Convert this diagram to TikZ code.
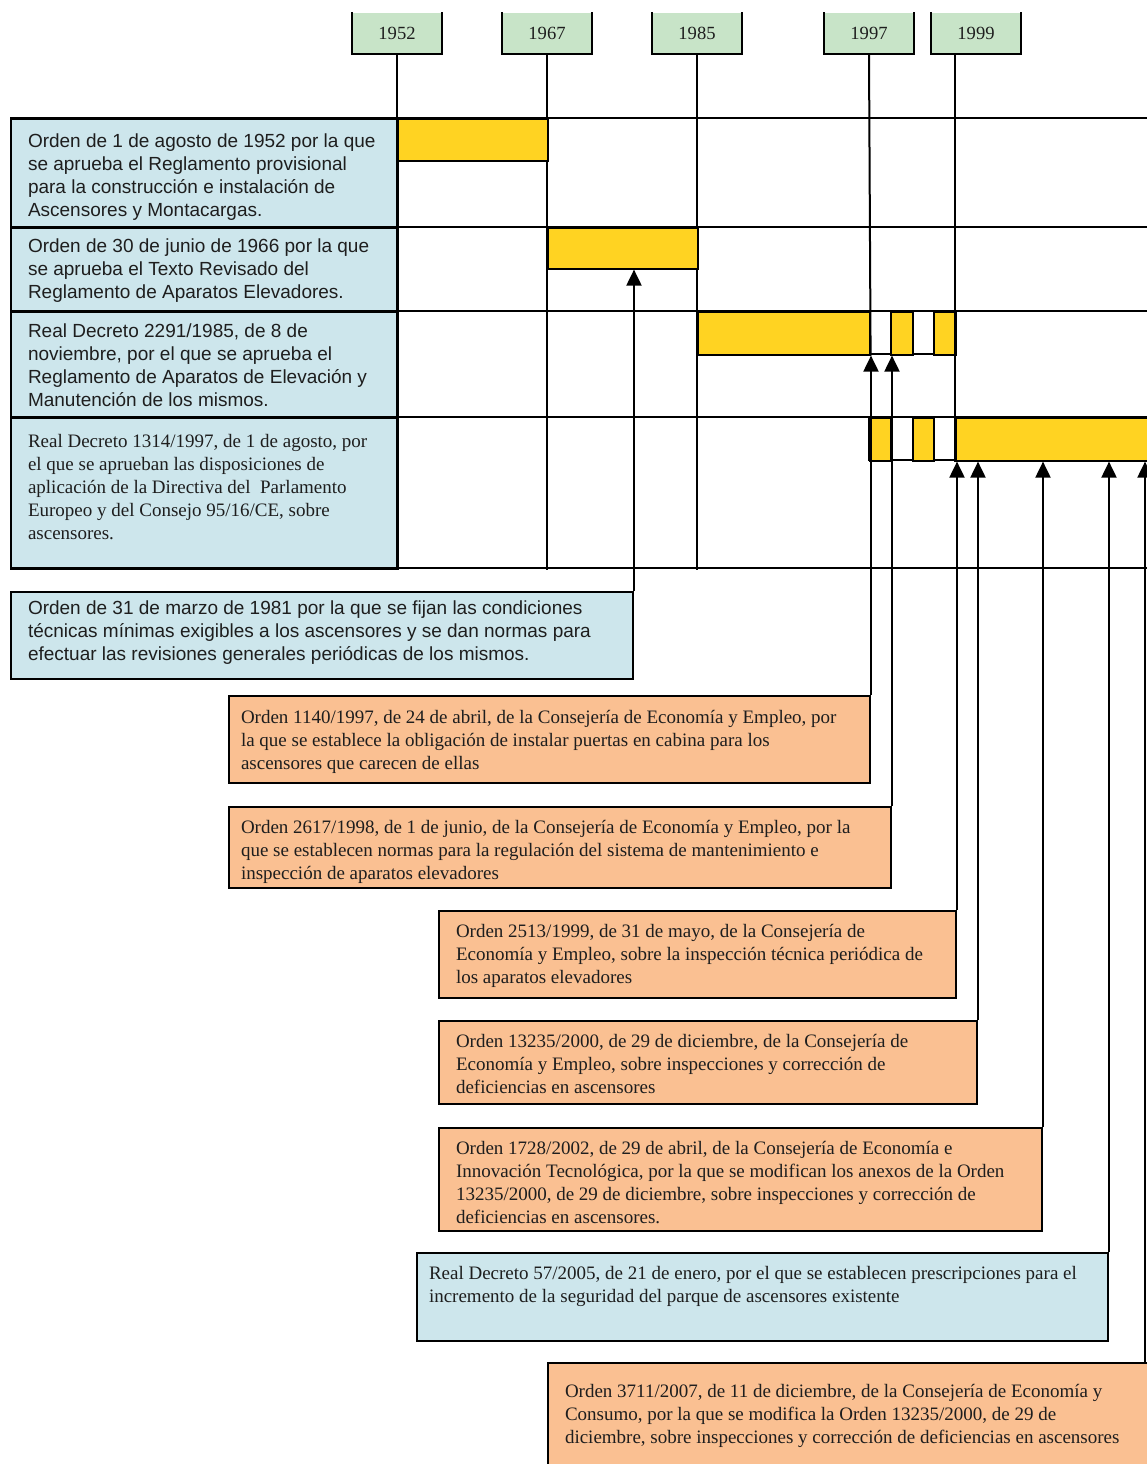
\documentclass[tikz,border=0pt]{standalone}
\usepackage{fontspec}
\setmainfont{Liberation Serif}
\newfontfamily\arialfont{Liberation Sans}
\usepackage{tikz}
\usetikzlibrary{arrows.meta, positioning, calc}
\usepackage{xcolor}

\definecolor{azul}{RGB}{205,230,236}
\definecolor{verde}{RGB}{200,228,200}
\definecolor{naranja}{RGB}{250,192,146}
\definecolor{amarillo}{RGB}{255,211,34}
\definecolor{tinta}{RGB}{30,30,30}

\tikzset{
  anio/.style={fill=verde, minimum width=44pt, minimum height=20pt, inner sep=0pt, text=tinta, font=\fontsize{9.3}{10}\selectfont},
  caja/.style={draw, line width=1pt, anchor=north west, inner sep=0pt},
  barra/.style={draw, fill=amarillo, line width=0.8pt, anchor=north west, inner sep=0pt},
  texto/.style={align=left, inner sep=0pt, text=tinta},
  sans/.style={texto, font=\arialfont\fontsize{9.5}{11.5}\selectfont},
  serif/.style={texto, font=\fontsize{9.5}{11.5}\selectfont},
  flecha/.style={-{Triangle[length=8pt, width=7.5pt]}, line width=1pt},
}

\begin{document}
\begin{tikzpicture}[x=0.5pt, y=-0.5pt, line width=1pt]

  \useasboundingbox (0,0) rectangle (1147,1464);
  \clip (0,0) rectangle (1147,1464);

  % casillas de los años
  \foreach \a/\x in {1952/397, 1967/547, 1985/697, 1997/869, 1999/976} {
    \node[anio] (y\a) at (\x,33) {\a};
    \draw (y\a.north west) -- (y\a.south west) -- (y\a.south east) -- (y\a.north east);
  }

  % filas de la tabla (reglamentos)
  \node[caja, fill=azul, minimum width=193.5pt, minimum height=54.5pt] (r1) at (10,118) {};
  \node[caja, fill=azul, minimum width=193.5pt, minimum height=42pt] (r2) at (10,227) {};
  \node[caja, fill=azul, minimum width=193.5pt, minimum height=53pt] (r3) at (10,311) {};
  \node[caja, fill=azul, minimum width=193.5pt, minimum height=75.5pt] (r4) at (10,417) {};

  \node[sans, below right=7.5pt and 8.5pt of r1.north west] (t1) {Orden de 1 de agosto de 1952 por la que\\se aprueba el Reglamento provisional\\para la construcción e instalación de\\Ascensores y Montacargas.};
  \node[sans, below right=5.5pt and 8.5pt of r2.north west] (t2) {Orden de 30 de junio de 1966 por la que\\se aprueba el Texto Revisado del\\Reglamento de Aparatos Elevadores.};
  \node[sans, below right=6pt and 8.5pt of r3.north west] (t3) {Real Decreto 2291/1985, de 8 de\\noviembre, por el que se aprueba el\\Reglamento de Aparatos de Elevación y\\Manutención de los mismos.};
  \node[serif, below right=8pt and 8.5pt of r4.north west] (t4) {Real Decreto 1314/1997, de 1 de agosto, por\\el que se aprueban las disposiciones de\\aplicación de la Directiva del\ \ Parlamento\\Europeo y del Consejo 95/16/CE, sobre\\ascensores.};

  % lineas horizontales
  \foreach \y in {118,227,311,417,568}
    \draw (10,\y) -- (1147,\y);

  % lineas de los años
  \draw (y1952.south) -- (y1952.south |- r4.south);
  \draw (y1967.south) -- (y1967.south |- r4.south);
  \draw (y1985.south) -- (y1985.south |- r4.south);

  % barras de vigencia
  \node[barra, minimum width=75pt, minimum height=21pt] (b1) at (397,118) {};
  \node[barra, minimum width=75pt, minimum height=20.5pt] (b2) at (547,227) {};

  \draw (697,311) rectangle (955,354);
  \node[barra, minimum width=86pt, minimum height=21.5pt] (b3a) at (697,311) {};
  \node[barra, minimum width=11pt, minimum height=21.5pt] (b3b) at (890,311) {};
  \node[barra, minimum width=11pt, minimum height=21.5pt] (b3c) at (933,311) {};

  \draw (869,417) rectangle (1152,460);
  \node[barra, minimum width=10.5pt, minimum height=21.5pt] (b4a) at (869,417) {};
  \node[barra, minimum width=10.5pt, minimum height=21.5pt] (b4b) at (912,417) {};
  \node[barra, minimum width=98.5pt, minimum height=21.5pt] (b4c) at (955,417) {};

  \coordinate (l1999) at (955,53);
  \draw (y1997.south) -- (b3a.south east);
  \draw (l1999) -- (b4c.south west);

  % ordenes y decretos posteriores
  \node[caja, fill=azul, minimum width=311pt, minimum height=43.5pt] (o1981) at (10,591) {};
  \node[sans, below right=4.5pt and 8.5pt of o1981.north west] (t1981) {Orden de 31 de marzo de 1981 por la que se fijan las condiciones\\técnicas mínimas exigibles a los ascensores y se dan normas para\\efectuar las revisiones generales periódicas de los mismos.};

  \node[caja, fill=naranja, minimum width=320.5pt, minimum height=43.5pt] (o1140) at (228,695) {};
  \node[serif, below right=7pt and 6pt of o1140.north west] (t1140) {Orden 1140/1997, de 24 de abril, de la Consejería de Economía y Empleo, por\\la que se establece la obligación de instalar puertas en cabina para los\\ascensores que carecen de ellas};

  \node[caja, fill=naranja, minimum width=331pt, minimum height=40.5pt] (o2617) at (228,806) {};
  \node[serif, below right=6.5pt and 6pt of o2617.north west] (t2617) {Orden 2617/1998, de 1 de junio, de la Consejería de Economía y Empleo, por la\\que se establecen normas para la regulación del sistema de mantenimiento e\\inspección de aparatos elevadores};

  \node[caja, fill=naranja, minimum width=258.5pt, minimum height=43.5pt] (o2513) at (438,910) {};
  \node[serif, below right=6.5pt and 8.5pt of o2513.north west] (t2513) {Orden 2513/1999, de 31 de mayo, de la Consejería de\\Economía y Empleo, sobre la inspección técnica periódica de\\los aparatos elevadores};

  \node[caja, fill=naranja, minimum width=269pt, minimum height=41.5pt] (o13235) at (438,1020) {};
  \node[serif, below right=6.5pt and 8.5pt of o13235.north west] (t13235) {Orden 13235/2000, de 29 de diciembre, de la Consejería de\\Economía y Empleo, sobre inspecciones y corrección de\\deficiencias en ascensores};

  \node[caja, fill=naranja, minimum width=301.5pt, minimum height=51.5pt] (o1728) at (438,1127) {};
  \node[serif, below right=6.5pt and 8.5pt of o1728.north west] (t1728) {Orden 1728/2002, de 29 de abril, de la Consejería de Economía e\\Innovación Tecnológica, por la que se modifican los anexos de la Orden\\13235/2000, de 29 de diciembre, sobre inspecciones y corrección de\\deficiencias en ascensores.};

  \node[caja, fill=azul, minimum width=345.5pt, minimum height=44pt] (rd57) at (416,1252) {};
  \node[serif, below right=6.5pt and 6pt of rd57.north west] (t57) {Real Decreto 57/2005, de 21 de enero, por el que se establecen prescripciones para el\\incremento de la seguridad del parque de ascensores existente};

  \node[caja, fill=naranja, minimum width=302.5pt, minimum height=54pt] (o3711) at (547,1362) {};
  \node[serif, below right=10.5pt and 8.5pt of o3711.north west] (t3711) {Orden 3711/2007, de 11 de diciembre, de la Consejería de Economía y\\Consumo, por la que se modifica la Orden 13235/2000, de 29 de\\diciembre, sobre inspecciones y corrección de deficiencias en ascensores};
  \coordinate (c3711) at (1145,1362);

  % flechas hacia las barras
  \draw[flecha] (o1981.north east) -- (o1981.north east |- b2.south);
  \draw[flecha] (o1140.north east) -- (o1140.north east |- b3a.south);
  \draw[flecha] (o2617.north east) -- (o2617.north east |- b3b.south);
  \draw[flecha] (o2513.north east) -- (o2513.north east |- b4c.south);
  \draw[flecha] (o13235.north east) -- (o13235.north east |- b4c.south);
  \draw[flecha] (o1728.north east) -- (o1728.north east |- b4c.south);
  \draw[flecha] (rd57.north east) -- (rd57.north east |- b4c.south);
  \draw[flecha] (c3711) -- (c3711 |- b4c.south);

\end{tikzpicture}
\end{document}
